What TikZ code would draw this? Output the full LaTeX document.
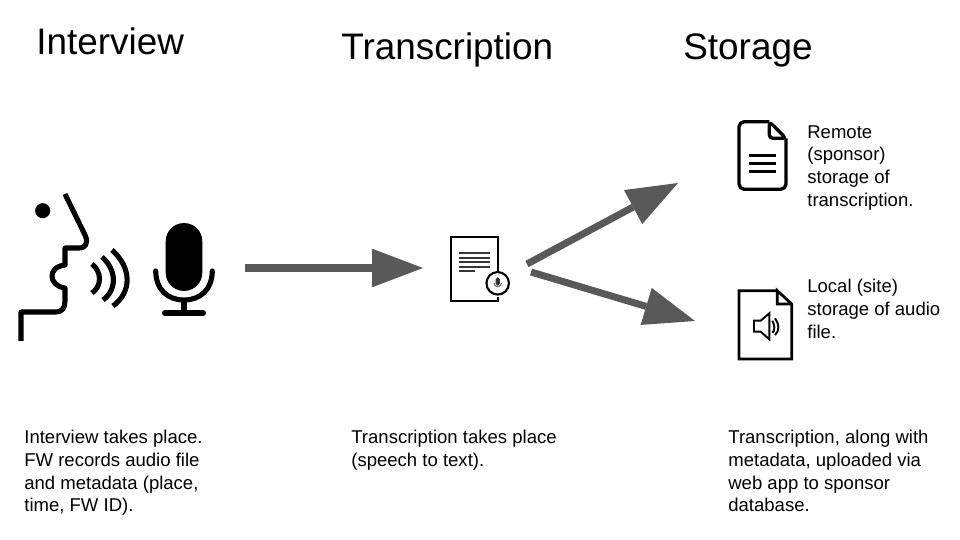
\documentclass[tikz,border=0pt]{standalone}
\usepackage{fontspec}
\setmainfont{Liberation Sans}
\usetikzlibrary{arrows.meta}
\definecolor{arrowgray}{HTML}{595959}
\tikzset{
  heading/.style={anchor=west,inner sep=0pt,font=\fontsize{21}{25}\selectfont},
  caption/.style={anchor=north west,inner sep=0pt,align=left,font=\fontsize{10.55}{12.9}\selectfont},
  flow/.style={draw=arrowgray,line width=4pt,-{Triangle[length=29pt,width=22pt,fill=arrowgray,line width=0pt]}},
  icon/.style={draw=black,line width=2.9pt,line join=round},
  thinicon/.style={draw=black,line width=1.5pt},
  blackfill/.style={fill=black,draw=none}
}
\begin{document}
\begin{tikzpicture}[x=0.02cm,y=-0.02cm]
\useasboundingbox (0,0) rectangle (960,540);
\node(interview) at (36,41)[heading]        {Interview};
\node(transcription) at (341,50)[heading]   {Transcription};
\node(storage) at (683,50)[heading]         {Storage};
\node(interviewtext) at (24,430)[caption]   {Interview takes place.\\FW records audio file\\and metadata (place,\\time, FW ID).};
\node(transcriptiontext) at (351,430)[caption] {Transcription takes place\\(speech to text).};
\node(storagetext) at (728,430)[caption]    {Transcription, along with\\metadata, uploaded via\\web app to sponsor\\database.};
\node(remotetext) at (807,125)[caption]     {Remote\\(sponsor)\\storage of\\transcription.};
\node(localtext) at (807,279)[caption]      {Local (site)\\storage of audio\\file.};
% speaker
\node(eye) at (42.7,210.7)[circle,blackfill,minimum size=8.6pt,inner sep=0pt]{};
\draw[icon] (65,194) -- (85.5,236) .. controls (88,243) and (86,248) .. (79,248) -- (65,248) -- (65,265)
  .. controls (56,266) and (52,271) .. (52,276) .. controls (52,282) and (57,287) .. (65,288) -- (65,301)
  .. controls (65,308) and (62,312) .. (56,312) -- (21,312) -- (21,341);
\draw[icon] (92,264) .. controls (102,272) and (102,286) .. (92,293);
\draw[icon] (102,257) .. controls (117,270) and (117,290) .. (103,300);
\draw[icon] (112,250) .. controls (132,268) and (132,292) .. (113,306);
% microphone
\node(micbody) at (184,257)[rectangle,blackfill,rounded corners=10.3pt,minimum width=20.8pt,minimum height=38.6pt,inner sep=0pt]{};
\draw[icon,line cap=round] (155.7,271) .. controls (156,290) and (168,300) .. (184,300) .. controls (200,300) and (212,290) .. (212.3,271);
\draw[icon] (184,300) -- (184,313);
\draw[icon,line width=3.4pt,line cap=round] (165,313) -- (203,313);
% transcript with recording mark
\draw[thinicon,line width=1.2pt] (498,271.7) -- (498,236.7) -- (451.3,236.7) -- (451.3,300.7) -- (498,300.7) -- (498,297);
\foreach \liney in {253,257.7,262.3,266.7}
  \draw[arrowgray!60!black,line width=1.3pt] (459,\liney) -- (490.3,\liney);
\draw[arrowgray!60!black,line width=1.3pt] (459,271) -- (475,271);
\node(recmark) at (497.7,283.3)[circle,draw=black,line width=1.2pt,minimum size=12.8pt,inner sep=0pt]{};
\node(recmic) at (497.7,281.5)[rectangle,fill=black!80,rounded corners=1pt,minimum width=2.4pt,minimum height=4.6pt,inner sep=0pt]{};
\draw[black!60,line width=0.6pt] (494,283) .. controls (494,288) and (501.4,288) .. (501.4,283);
% remote document
\draw[icon,line width=1.9pt,rounded corners=3pt] (769.3,121.7) -- (739,121.7) -- (739,189.3) -- (786,189.3) -- (786,138.3);
\draw[icon,line width=1.9pt,rounded corners=2pt] (769.3,121.7) -- (769.3,138.3) -- (786,138.3) -- cycle;
\foreach \liney in {155.7,163.3,171.3}
  \draw[black,line width=1.6pt] (749,\liney) -- (776,\liney);
% local document
\draw[icon,line width=1.6pt,line join=miter] (777.3,290.7) -- (739,290.7) -- (739,359) -- (791.7,359) -- (791.7,304) -- (777.3,290.7) -- (777.3,304) -- (791.7,304);
\draw[thinicon,line width=1.1pt] (754,320.7) -- (760.7,320.7) -- (769.3,313.3) -- (769.3,339.3) -- (760.7,331.7) -- (754,331.7) -- cycle;
\draw[thinicon,line width=1.1pt] (772.3,320.7) .. controls (775,325) and (775,331) .. (772.3,332.7);
\draw[thinicon,line width=1.1pt] (775,318.3) .. controls (779.5,324) and (779.5,331) .. (775,335);
% arrows
\coordinate(micout) at (245,268);
\coordinate(docin) at (423,268);
\coordinate(forktop) at (527,264);
\coordinate(remotein) at (678,183);
\coordinate(forkbottom) at (531,272);
\coordinate(localin) at (695,321);
\path
  (micout)      edge [flow]    (docin)
  (forktop)     edge [flow]    (remotein)
  (forkbottom)  edge [flow]    (localin);
\end{tikzpicture}
\end{document}
